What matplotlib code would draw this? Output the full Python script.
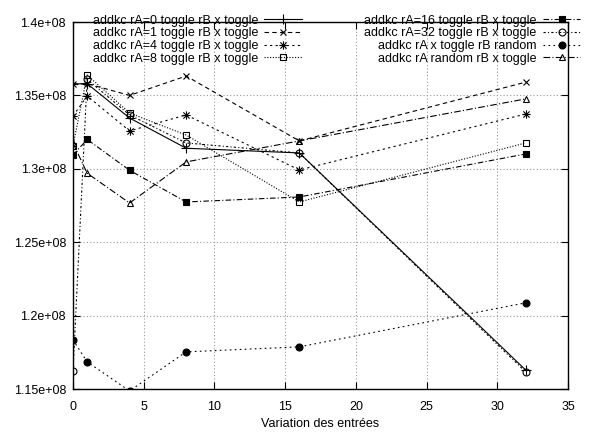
import matplotlib
matplotlib.use("Agg")
import matplotlib.pyplot as plt
from matplotlib.path import Path
from matplotlib.ticker import FuncFormatter, MultipleLocator

x = [0, 1, 4, 8, 16, 32]
labels = [
    "addkc rA=0 toggle rB x toggle",
    "addkc rA=1 toggle rB x toggle",
    "addkc rA=4 toggle rB x toggle",
    "addkc rA=8 toggle rB x toggle",
    "addkc rA=16 toggle rB x toggle",
    "addkc rA=32 toggle rB x toggle",
    "addkc rA x toggle rB random",
    "addkc rA random rB x toggle",
]
rA0 = [1.3578e8, 1.3580e8, 1.3346e8, 1.3140e8, 1.3108e8, 1.1630e8]
rA1 = [1.3578e8, 1.3580e8, 1.3500e8, 1.3632e8, 1.3190e8, 1.3590e8]
rA4 = [1.3360e8, 1.3496e8, 1.3258e8, 1.3367e8, 1.2992e8, 1.3373e8]
rA8 = [1.3156e8, 1.3639e8, 1.3380e8, 1.3230e8, 1.2774e8, 1.3176e8]
rA16 = [1.3094e8, 1.3200e8, 1.2990e8, 1.2774e8, 1.2808e8, 1.3101e8]
rA32 = [1.1620e8, 1.3610e8, 1.3367e8, 1.3176e8, 1.3108e8, 1.1617e8]
rBrand = [1.1835e8, 1.1685e8, 1.1487e8, 1.1753e8, 1.1787e8, 1.2087e8]
rArand = [1.3176e8, 1.2970e8, 1.2767e8, 1.3047e8, 1.3190e8, 1.3476e8]
series = [rA0, rA1, rA4, rA8, rA16, rA32, rBrand, rArand]

star = Path([(-1, 0), (1, 0), (0, -1), (0, 1), (-.75, -.75), (.75, .75), (-.75, .75), (.75, -.75)],
            [Path.MOVETO, Path.LINETO] * 4)

styles = [
    dict(ls='-', marker='+', mfc='black', ms=7),
    dict(ls=(0, (4, 3)), marker='x', mfc='none', ms=5),
    dict(ls=(0, (2, 3)), marker=star, mfc='none', ms=6),
    dict(ls=(0, (1, 1.5)), marker='s', mfc='none', ms=5),
    dict(ls=(0, (5, 2, 1, 2)), marker='s', mfc='black', ms=5),
    dict(ls=(0, (2, 2, 1, 2)), marker='o', mfc='none', ms=5),
    dict(ls=(0, (1.5, 3)), marker='o', mfc='black', ms=5),
    dict(ls=(0, (6, 2, 1, 2)), marker='^', mfc='none', ms=5),
]

plt.rcParams['font.family'] = ['Liberation Sans', 'DejaVu Sans']
plt.rcParams['font.size'] = 9

fig = plt.figure(figsize=(5.97, 4.33), dpi=100)
ax = fig.add_axes([73/597, 1-389/433, (568-73)/597, (389-22)/433])

for y, lab, st in zip(series, labels, styles):
    ax.plot(x, y, color='black', lw=0.8, ls=st['ls'], marker=st['marker'],
            markerfacecolor=st['mfc'], markeredgecolor='black', markersize=st['ms'],
            markeredgewidth=0.8, label=lab)

ax.set_xlim(0, 35)
ax.set_ylim(1.15e8, 1.4e8)
ax.xaxis.set_major_locator(MultipleLocator(5))
ax.yaxis.set_major_locator(MultipleLocator(0.05e8))
ax.yaxis.set_major_formatter(FuncFormatter(lambda v, p: f"{v/1e8:g}e+08"))
ax.tick_params(direction='in', top=True, right=True, length=5, width=0.8)
ax.tick_params(axis='x', pad=9)
ax.tick_params(axis='y', pad=5)
ax.grid(True, color='#999999', ls=(0, (1, 2)), lw=0.8)
for s in ax.spines.values():
    s.set_linewidth(1.0)
ax.set_xlabel("Variation des entrées", labelpad=3)

ax.legend(ncol=2, loc='upper right', bbox_to_anchor=(1.025, 1.02), frameon=False,
          markerfirst=False, handlelength=3.0, handletextpad=0.5, columnspacing=5,
          labelspacing=0.05, borderaxespad=0, borderpad=0)

fig.savefig("out.png", dpi=100)
